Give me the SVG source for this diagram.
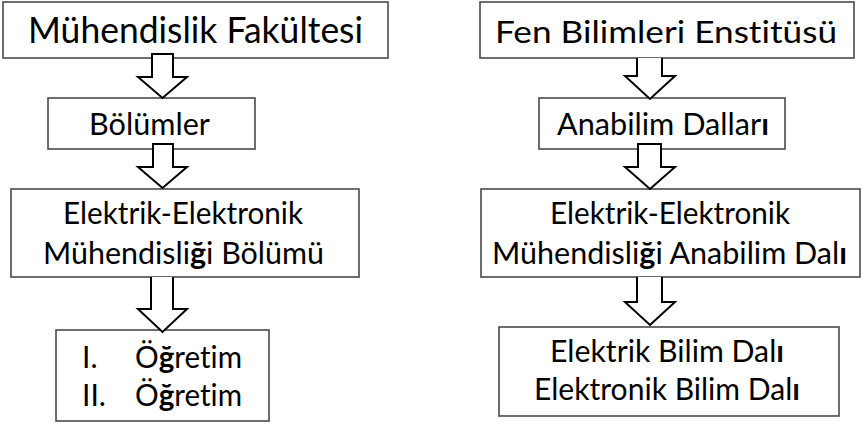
<svg xmlns="http://www.w3.org/2000/svg" width="864" height="425" viewBox="0 0 864 425">
<style>
.box{fill:#fff;stroke:#4a4a4a;stroke-width:1.6}
.arr{fill:#fff;stroke:#000;stroke-width:2;stroke-linejoin:miter}
text{font-family:Lato,"Open Sans","Noto Sans",sans-serif;font-size:30px;fill:#000;font-variant-ligatures:none}
.big{font-size:36px}
.b{font-weight:bold}
</style>
<rect width="864" height="425" fill="#fff"/>
<g id="muhendislik-fakultesi">
<rect class="box" x="3" y="2" width="385" height="56"/>
<text class="big" x="28" y="43" textLength="335" lengthAdjust="spacingAndGlyphs">Mühendislik Fakültesi</text>
</g>
<g id="bolumler">
<rect class="box" x="48" y="98" width="207" height="51"/>
<text x="89" y="135" textLength="121" lengthAdjust="spacingAndGlyphs">Bölümler</text>
</g>
<g id="eem-bolumu">
<rect class="box" x="11" y="189" width="348" height="88"/>
<text x="63" y="224" textLength="240" lengthAdjust="spacingAndGlyphs">Elektrik-Elektronik</text>
<text x="43" y="264" textLength="281" lengthAdjust="spacingAndGlyphs">Mühendisli<tspan class="b">ğ</tspan>i Bölümü</text>
</g>
<g id="ogretim">
<rect class="box" x="56" y="330" width="213" height="91"/>
<text x="82" y="368">I.</text>
<text x="135" y="368" textLength="107" lengthAdjust="spacingAndGlyphs">Ö<tspan class="b">ğ</tspan>retim</text>
<text x="82" y="406">II.</text>
<text x="135" y="406" textLength="107" lengthAdjust="spacingAndGlyphs">Ö<tspan class="b">ğ</tspan>retim</text>
</g>
<g id="fen-bilimleri-enstitusu">
<rect class="box" x="480" y="2" width="374" height="56"/>
<text x="495" y="43" textLength="342" lengthAdjust="spacingAndGlyphs">Fen Bilimleri Enstitüsü</text>
</g>
<g id="anabilim-dallari">
<rect class="box" x="539" y="98" width="246" height="51"/>
<text x="557" y="135" textLength="212" lengthAdjust="spacingAndGlyphs">Anabilim Dallar<tspan class="b">ı</tspan></text>
</g>
<g id="eem-anabilim-dali">
<rect class="box" x="481" y="189" width="379" height="88"/>
<text x="550" y="224" textLength="240" lengthAdjust="spacingAndGlyphs">Elektrik-Elektronik</text>
<text x="492" y="264" textLength="355" lengthAdjust="spacingAndGlyphs">Mühendisli<tspan class="b">ğ</tspan>i Anabilim Dal<tspan class="b">ı</tspan></text>
</g>
<g id="bilim-dallari">
<rect class="box" x="499" y="327" width="340" height="89"/>
<text x="550" y="362" textLength="234" lengthAdjust="spacingAndGlyphs">Elektrik Bilim Dal<tspan class="b">ı</tspan></text>
<text x="534" y="400" textLength="266" lengthAdjust="spacingAndGlyphs">Elektronik Bilim Dal<tspan class="b">ı</tspan></text>
</g>
<g id="connectors">
<path class="arr" d="M152,54 H173 V77 H187 L162.5,98 L138,77 H152 Z"/>
<path class="arr" d="M153,144 H173 V167 H187 L162.5,188 L138,167 H153 Z"/>
<path class="arr" d="M151,277 V309 H138 L162.5,332 L187,309 H173 V277"/>
<path class="arr" d="M637,58 V76 H625 L650,99 L675,76 H662 V58"/>
<path class="arr" d="M638,144 H661 V167 H675 L650,189 L625,167 H638 Z"/>
<path class="arr" d="M637,277 V302 H625 L650,325 L675,302 H662 V277"/>
</g>
</svg>
